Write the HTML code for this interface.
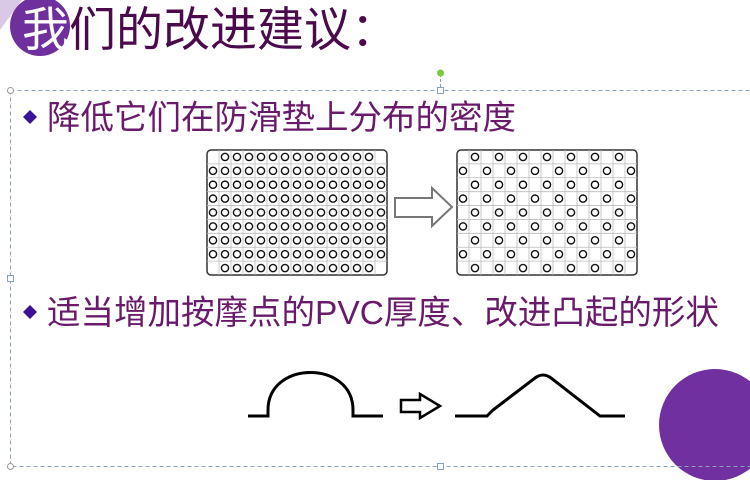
<!DOCTYPE html>
<html><head><meta charset="utf-8"><style>
body{margin:0;width:750px;height:480px;overflow:hidden;background:#fff}
svg{display:block}
</style></head><body>
<svg id="s" width="750" height="480" xmlns="http://www.w3.org/2000/svg">
<polygon points="0,0 22,0 0,30" fill="#d9c8e6"/>
<circle cx="40" cy="26" r="30" fill="#6f2f9c"/>
<circle cx="715" cy="425" r="56" fill="#7030a0"/>
<text x="22" y="46" font-family="Liberation Sans,'Noto Sans CJK SC',sans-serif" font-size="47" fill="#4b0a4b"><tspan fill="#fff">我</tspan>们的改进建议：</text>
<rect x="10.5" y="90.5" width="760" height="376" fill="none" stroke="#8aa0b8" stroke-dasharray="4,3"/>
<line x1="440.5" y1="74" x2="440.5" y2="90" stroke="#8aa0b8" stroke-dasharray="3,2"/>
<circle cx="440.5" cy="73" r="3.5" fill="#7acc3a"/>
<circle cx="10.5" cy="90.5" r="3" fill="#fff" stroke="#999"/>
<rect x="437.5" y="87.5" width="6" height="6" fill="#fff" stroke="#8aa0b8"/>
<rect x="7.5" y="275.5" width="6" height="6" fill="#fff" stroke="#8aa0b8"/>
<rect x="437.5" y="463.5" width="6" height="6" fill="#fff" stroke="#8aa0b8"/>
<circle cx="10.5" cy="466.5" r="3" fill="#fff" stroke="#999"/>
<polygon points="30,110 37,117 30,124 23,117" fill="#3a1199"/>
<text x="47" y="129" font-family="Liberation Sans,'Noto Sans CJK SC',sans-serif" font-size="33.5" fill="#6a1a6a">降低它们在防滑垫上分布的密度</text>
<polygon points="30,305 37,312 30,319 23,312" fill="#3a1199"/>
<text x="47" y="324" font-family="Liberation Sans,'Noto Sans CJK SC',sans-serif" font-size="33.5" fill="#6a1a6a">适当增加按摩点的PVC厚度、改进凸起的形状</text>
<g id="g1"></g><g id="g2"></g>
<polygon points="395,198 432,198 432,188 452,207 432,226 432,217 395,217" fill="#fff" stroke="#777" stroke-width="2"/>
<g fill="none" stroke="#000" stroke-width="3">
<path d="M248,416 H268 V410 C268,360 353,360 353,410 V416 H383"/>
<path d="M455,416 H487 L493,410 L535,378 Q543,372 551,378 L600,416 H625"/>
</g>
<polygon points="401,400 420,400 420,394 440,406 420,418 420,412 401,412" fill="#fff" stroke="#000" stroke-width="2.5"/>
</svg>
<script>
function grid(id,x0,full){
 var g=document.getElementById(id),h='',cw=12,rh=125/9;
 h+='<rect x="'+x0+'" y="150" width="180" height="125" rx="4" fill="#fff" stroke="#333" stroke-width="1.5"/>';
 for(var c=1;c<15;c++)h+='<line x1="'+(x0+c*cw)+'" y1="150" x2="'+(x0+c*cw)+'" y2="275" stroke="#bbb" stroke-width="0.8"/>';
 for(var r=1;r<9;r++)h+='<line x1="'+x0+'" y1="'+(150+r*rh)+'" x2="'+(x0+180)+'" y2="'+(150+r*rh)+'" stroke="#bbb" stroke-width="0.8"/>';
 for(var r=0;r<9;r++)for(var c=0;c<15;c++){
  var on;
  if(full)on=(r==0||r==8)?(c>=1&&c<=13):true;
  else on=(r%2==0)?(c%2==1):(c%2==0);
  if(on)h+='<circle cx="'+(x0+c*cw+6)+'" cy="'+(150+r*rh+rh/2)+'" r="3.6" fill="none" stroke="#111" stroke-width="1.4"/>';
 }
 g.innerHTML=h;
}
grid('g1',207,true);grid('g2',457,false);
</script>
</body></html>
